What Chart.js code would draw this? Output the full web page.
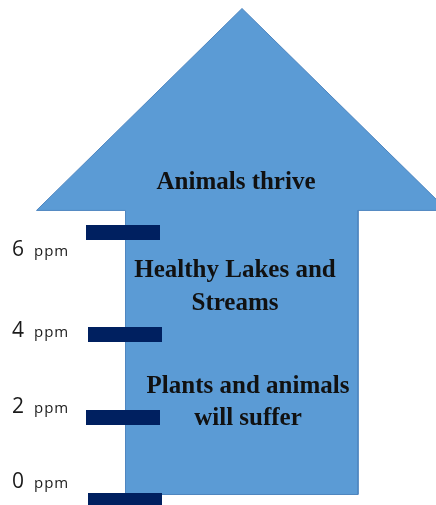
<!DOCTYPE html>
<html>
<head>
<meta charset="utf-8">
<script src="https://cdn.jsdelivr.net/npm/chart.js@4.4.1/dist/chart.umd.min.js"></script>
<style>
  html, body { margin: 0; padding: 0; background: #ffffff; }
  #wrap { width: 436px; height: 505px; }
</style>
</head>
<body>
<div id="wrap"><canvas id="arrowChart" width="436" height="505"></canvas></div>
<script>
// ppm scale marks
const ppmTicks = [0, 2, 4, 6];
const markerLevels = [0, 2, 4, 6.46];
const markerStart = [88, 86, 88, 86];
const markerEnd = [162, 160, 162, 160];
const labelLevels = [0.29, 2.10, 3.95, 5.90];

// arrow outline (x in width units, y in ppm)
const arrowX = [242, 447.5, 358, 358, 125.5, 125.5, 36.5, 242];
const arrowY = [11.855, 6.99, 6.99, 0.145, 0.145, 6.99, 6.99, 11.855];

// zone captions
const zoneLines = ['Animals thrive', 'Healthy Lakes and', 'Streams', 'Plants and animals', 'will suffer'];
const zoneX = [236, 235, 235, 248, 248];
const zoneLevels = [7.51, 5.38, 4.59, 2.59, 1.82];

const arrowPoints = arrowX.map((x, i) => ({ x: x, y: arrowY[i] }));

const markerPoints = [];
markerLevels.forEach((lv, i) => {
    markerPoints.push({ x: markerStart[i], y: lv });
    markerPoints.push({ x: markerEnd[i], y: lv });
    markerPoints.push({ x: markerEnd[i], y: null });
});

const textPlugin = {
    id: 'arrowText',
    afterDatasetsDraw(chart) {
        const ctx = chart.ctx;
        const xs = chart.scales.x;
        const ys = chart.scales.y;
        ctx.save();

        // captions inside the arrow
        ctx.fillStyle = '#111111';
        ctx.font = 'bold 25px "Liberation Serif", "Times New Roman", serif';
        ctx.textAlign = 'center';
        ctx.textBaseline = 'alphabetic';
        zoneLines.forEach((line, i) => {
            ctx.fillText(line, xs.getPixelForValue(zoneX[i]), ys.getPixelForValue(zoneLevels[i]));
        });

        // "N ppm" labels on the left
        ctx.textAlign = 'left';
        ctx.fillStyle = '#1a1a1a';
        ppmTicks.forEach((v, i) => {
            const y = ys.getPixelForValue(labelLevels[i]);
            ctx.font = '21px "Open Sans", sans-serif';
            ctx.letterSpacing = '0px';
            ctx.fillText(String(v), xs.getPixelForValue(12), y);
            ctx.font = '15px "Open Sans", sans-serif';
            ctx.letterSpacing = '1px';
            ctx.fillText('ppm', xs.getPixelForValue(34), y);
        });
        ctx.restore();
    }
};

new Chart(document.getElementById('arrowChart'), {
    type: 'scatter',
    data: {
        datasets: [
            {
                type: 'line',
                label: 'markers',
                data: markerPoints,
                borderColor: '#002060',
                borderWidth: 15,
                borderCapStyle: 'butt',
                pointRadius: 0,
                spanGaps: false,
                fill: false,
                order: 1
            },
            {
                type: 'line',
                label: 'arrow',
                data: arrowPoints,
                borderColor: '#4F86C0',
                backgroundColor: '#5B9BD5',
                borderWidth: 1,
                pointRadius: 0,
                tension: 0,
                fill: 'shape',
                order: 2
            }
        ]
    },
    options: {
        responsive: false,
        animation: false,
        devicePixelRatio: 1,
        layout: { padding: 0 },
        plugins: {
            legend: { display: false },
            tooltip: { enabled: false }
        },
        scales: {
            x: { type: 'linear', min: 0, max: 436, display: false },
            y: { type: 'linear', min: -0.108, max: 12.06, display: false }
        }
    },
    plugins: [textPlugin]
});
</script>
</body>
</html>
